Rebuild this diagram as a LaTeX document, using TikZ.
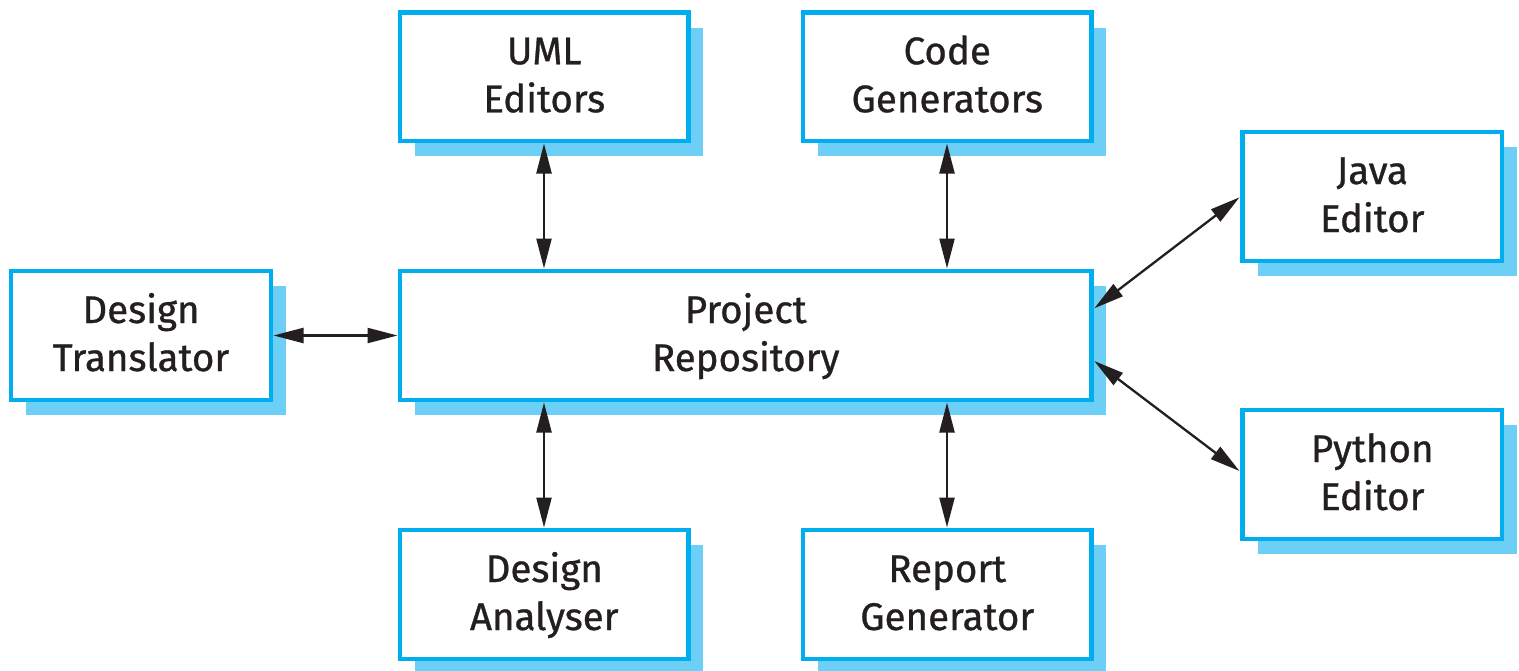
\documentclass[tikz,border=0pt]{standalone}
\usepackage{fontspec}
\setmainfont[RawFeature={embolden=0.8}]{Fira Sans}
\usetikzlibrary{arrows.meta}
\definecolor{boxblue}{HTML}{00AEEF}
\definecolor{shblue}{HTML}{6DCFF6}
\definecolor{txt}{HTML}{231F20}
\tikzset{
 bx/.style={draw=boxblue,fill=white,line width=4.7pt,inner sep=0pt,outer sep=0pt,align=center,font=\fontsize{38.5pt}{48pt}\selectfont,text=txt,anchor=north west},
 sh/.style={fill=shblue,draw=none},
 lk/.style={draw=txt,line width=2.3pt,{Triangle[length=30pt,width=15pt]}-{Triangle[length=30pt,width=15pt]}},
 gap/.style={shorten <=2.5pt,shorten >=2.5pt}
}
\newcommand{\tl}[2]{\rule{0pt}{33pt}#1\\#2\rule[-10pt]{0pt}{10pt}}
\newcommand{\mybox}[7]{% name x1 y1 x2 y2 line1 line2
 \fill[sh] (#2pt+15pt,-#3pt-15.2pt) rectangle (#4pt+14.6pt,-#5pt-15.2pt);
 \node[bx,minimum width=#4pt-#2pt,minimum height=#5pt-#3pt] (#1) at (#2pt,-#3pt) {\tl{#6}{#7}};
}
\begin{document}
\begin{tikzpicture}[x=1pt,y=1pt]
\useasboundingbox (0,0) rectangle (1519pt,-670pt);
\mybox{uml}{400}{12.5}{688.5}{141}{UML}{Editors}
\mybox{code}{803}{12.5}{1091.5}{141}{Code}{Generators}
\mybox{java}{1242.5}{132}{1502}{261}{Java}{Editor}
\mybox{trans}{11}{271}{271}{400}{Design}{Translator}
\mybox{repo}{400}{271}{1091.5}{400}{Project}{Repository}
\mybox{python}{1242.5}{410}{1502}{539}{Python}{Editor}
\mybox{ana}{400}{530}{688.5}{659}{Design}{Analyser}
\mybox{rep}{803}{530}{1091.5}{659}{Report}{Generator}
\coordinate (u1) at (544pt,-143pt);
\coordinate (c1) at (947pt,-143pt);
\coordinate (t1) at (273pt,-335.5pt);
\coordinate (j1) at (1094.3pt,-308.3pt); \coordinate (j2) at (1239.5pt,-197.3pt);
\coordinate (p1) at (1094.3pt,-361pt); \coordinate (p2) at (1239.5pt,-471pt);
\draw[lk,gap] (uml.south-|u1) -- (repo.north-|u1);
\draw[lk,gap] (code.south-|c1) -- (repo.north-|c1);
\draw[lk,gap] (trans.east|-t1) -- (repo.west|-t1);
\draw[lk,gap] (repo.south-|u1) -- (ana.north-|u1);
\draw[lk,gap] (repo.south-|c1) -- (rep.north-|c1);
\draw[lk] (j1) -- (j2);
\draw[lk] (p1) -- (p2);
\end{tikzpicture}
\end{document}
